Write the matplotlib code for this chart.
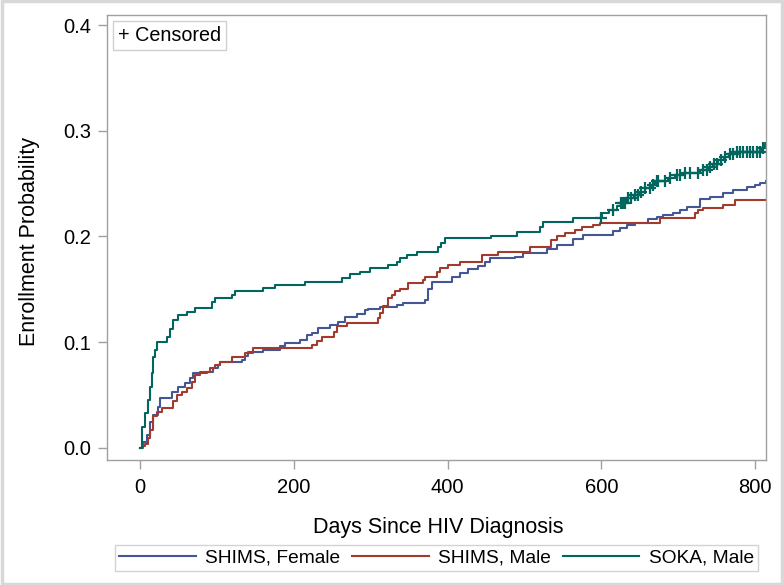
import matplotlib
matplotlib.use("Agg")
import matplotlib.pyplot as plt
from matplotlib.lines import Line2D
from matplotlib.patches import Rectangle
import numpy as np

plt.rcParams['font.family'] = ['Liberation Sans', 'DejaVu Sans']

# ---- data (step curves: time in days, cumulative enrollment probability) ----
female_t = [0, 4, 9, 13, 17, 23, 26, 41, 49, 58, 65, 69, 87, 95, 101, 104, 133, 137, 141, 160,
            182, 189, 208, 217, 223, 232, 247, 258, 267, 282, 293, 297, 312, 334, 342, 371, 374,
            380, 406, 416, 427, 440, 449, 455, 488, 498, 529, 542, 563, 576, 615, 624, 633, 644,
            661, 672, 680, 693, 702, 711, 728, 741, 758, 771, 789, 800, 806, 814]
female_v = [0, .006, .012, .024, .031, .039, .047, .053, .058, .0615, .066, .071, .072, .0755, .0785,
            .0815, .083, .087, .091, .093, .096, .099, .102, .107, .109, .113, .116, .119, .124, .127,
            .13, .1315, .1335, .135, .137, .14, .15, .157, .162, .1655, .169, .172, .176, .18, .181,
            .184, .188, .192, .198, .2015, .205, .208, .211, .213, .2165, .2185, .22, .222, .225,
            .228, .235, .2375, .241, .244, .247, .249, .251, .252]

male_t = [0, 3, 6, 10, 13, 17, 22, 28, 43, 48, 54, 61, 67, 72, 78, 91, 98, 104, 120, 137, 147,
          224, 230, 236, 252, 256, 269, 309, 312, 316, 323, 327, 332, 338, 349, 368, 371, 386, 390,
          401, 416, 445, 466, 507, 535, 542, 553, 566, 575, 589, 598, 676, 722, 726, 732, 758, 774, 814]
male_v = [0, .002, .004, .009, .017, .03, .034, .038, .044, .05, .053, .0565, .0625, .069, .072,
          .0755, .0785, .0815, .086, .09, .0946, .0975, .101, .105, .11, .115, .118, .123, .128,
          .134, .142, .145, .148, .15, .156, .159, .162, .166, .17, .173, .176, .1825, .1855, .19,
          .197, .2005, .2035, .206, .209, .211, .213, .2175, .222, .225, .227, .23, .2345, .2345]

soka_t = [0, 2, 6, 10, 13, 15, 17, 19, 22, 35, 39, 43, 49, 61, 72, 94, 98, 120, 124, 160, 176,
          215, 262, 273, 286, 299, 323, 334, 338, 347, 360, 388, 392, 397, 457, 490, 520, 524, 563,
          601, 610, 620, 626, 632, 642, 650, 656, 664, 670, 686, 696, 705, 728, 738, 745, 752, 760,
          766, 774, 808, 813, 814]
soka_v = [0, .02, .033, .045, .058, .071, .086, .093, .1005, .105, .112, .121, .126, .1287, .132,
          .138, .1415, .1445, .148, .151, .154, .157, .161, .164, .1665, .17, .173, .176, .18,
          .1825, .1855, .19, .194, .1985, .2005, .2045, .209, .2138, .2175, .222, .225, .229,
          .232, .236, .239, .242, .246, .249, .252, .255, .258, .26, .263, .266, .269, .272,
          .275, .278, .28, .284, .288, .288]

soka_censor_t = [600, 615, 626, 628, 631, 635, 639, 644, 648, 652, 657, 663, 667, 672, 674, 683,
                 689, 698, 702, 709, 715, 726, 732, 737, 741, 746, 750, 756, 761, 767, 771, 776,
                 780, 784, 789, 793, 797, 802, 806, 810]

series_names = ["SHIMS, Female", "SHIMS, Male", "SOKA, Male"]
x_ticks = [0, 200, 400, 600, 800]
y_ticks = [0.0, 0.1, 0.2, 0.3, 0.4]

colors = ["#445694", "#A23A2E", "#01665E"]

fig = plt.figure(figsize=(7.84, 5.85), dpi=100)
ax = fig.add_axes([107/784, 1-460/585, (766-107)/784, (460-15)/585])

ax.step(female_t, female_v, where='post', color=colors[0], lw=1.5)
ax.step(male_t, male_v, where='post', color=colors[1], lw=1.5)
ax.step(soka_t, soka_v, where='post', color=colors[2], lw=1.5)

# censored marks placed on the SOKA curve
idx = np.searchsorted(soka_t, soka_censor_t, side='right') - 1
cens_y = np.array(soka_v)[idx]
ax.plot(soka_censor_t, cens_y, linestyle='none', marker='+', color=colors[2],
        markersize=8.5, markeredgewidth=1.6)

ax.set_xlim(-43, 814)
ax.set_ylim(-0.0115, 0.4095)
ax.set_xticks(x_ticks)
ax.set_xticklabels([str(t) for t in x_ticks])
ax.set_yticks(y_ticks)
ax.set_yticklabels([f"{t:.1f}" for t in y_ticks])

frame_c = "#A0A0A0"
for s in ax.spines.values():
    s.set_color(frame_c)
    s.set_linewidth(1.0)
ax.tick_params(axis='both', colors=frame_c, labelcolor='black', length=6.5, width=1.0,
               labelsize=14.5)
ax.tick_params(axis='x', pad=6.5)
ax.tick_params(axis='y', pad=5)

ax.set_xlabel("Days Since HIV Diagnosis", fontsize=15.5, va='baseline')
ax.xaxis.set_label_coords(0.503, (460 - 532.5) / 445)
ax.set_ylabel("Enrollment Probability", fontsize=15.5, va='center')
ax.yaxis.set_label_coords((29 - 107) / 659, 0.49)

# censored inset legend
ax.text((118 - 107) / 659, 0.975, "+ Censored", transform=ax.transAxes, fontsize=14.2,
        va='top', ha='left',
        bbox=dict(boxstyle='square,pad=0.25', fc='white', ec='#D0D0D0', lw=1.0))

handles = [Line2D([], [], color=c, lw=1.5) for c in colors]
leg = fig.legend(handles, series_names, loc='center', bbox_to_anchor=(436.5/784, 1-558/585),
                 ncol=3, fontsize=13.8, frameon=True, fancybox=False, handlelength=4.0,
                 handletextpad=0.5, columnspacing=0.6, borderpad=0.2, borderaxespad=0)
leg.get_frame().set_edgecolor('#C8C8C8')
leg.get_frame().set_linewidth(1.0)

# outer figure border
fig.patches.append(Rectangle((0.002, 0.002), 0.996, 0.996, transform=fig.transFigure,
                             fill=False, ec='#D8D8D8', lw=2.5))

fig.savefig("out.png", dpi=100)
